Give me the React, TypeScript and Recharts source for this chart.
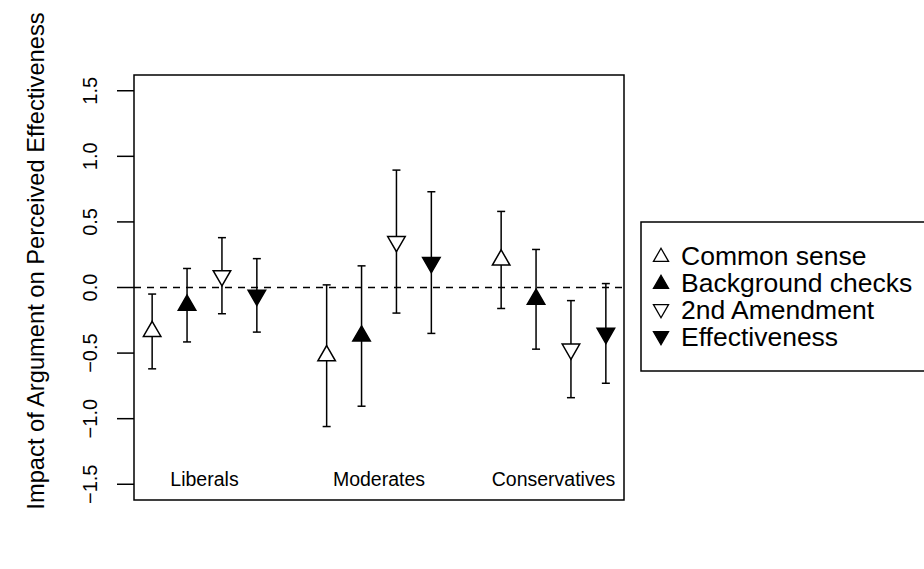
import { ComposedChart, XAxis, YAxis, Scatter, ErrorBar, ReferenceLine, ReferenceArea, Customized } from 'recharts';

const groups = ['Liberals', 'Moderates', 'Conservatives'];
const groupCenters = [2.5, 7.5, 12.5];
const groupLabelY = -1.5;
const yTicks = [-1.5, -1.0, -0.5, 0.0, 0.5, 1.0, 1.5];

// point estimate, lower and upper bound per group (Liberals, Moderates, Conservatives)
const commonSenseX = [1, 6, 11];
const commonSense = [-0.335, -0.52, 0.21];
const commonSenseLo = [-0.62, -1.06, -0.16];
const commonSenseHi = [-0.05, 0.02, 0.58];

const backgroundX = [2, 7, 12];
const background = [-0.135, -0.37, -0.09];
const backgroundLo = [-0.415, -0.905, -0.47];
const backgroundHi = [0.145, 0.165, 0.29];

const amendmentX = [3, 8, 13];
const amendment = [0.09, 0.35, -0.47];
const amendmentLo = [-0.2, -0.195, -0.84];
const amendmentHi = [0.38, 0.895, -0.1];

const effectX = [4, 9, 14];
const effect = [-0.06, 0.19, -0.35];
const effectLo = [-0.34, -0.35, -0.73];
const effectHi = [0.22, 0.73, 0.03];

const FONT = '"Liberation Sans", Arial, Helvetica, sans-serif';
const AXIS_X = 134;

const build = (xs: number[], ys: number[], lo: number[], hi: number[]) =>
  xs.map((x, i) => ({ x, y: ys[i], err: [ys[i] - lo[i], hi[i] - ys[i]] }));

const groupLabelData = groups.map((name, i) => ({ x: groupCenters[i], y: groupLabelY, name }));

// R-style triangle: apex at 1.555r from center, base 0.778r
const R = 6.5;
const tri = (cx: number, cy: number, up: boolean, r = R) => {
  const top = 1.555 * r, base = 0.778 * r, hw = 1.347 * r;
  if (up) return `${cx},${cy - top} ${cx + hw},${cy + base} ${cx - hw},${cy + base}`;
  return `${cx},${cy + top} ${cx + hw},${cy - base} ${cx - hw},${cy - base}`;
};

const makeShape = (up: boolean, filled: boolean) => (props: any) => (
  <polygon
    points={tri(props.cx, props.cy, up)}
    fill={filled ? '#000' : '#fff'}
    stroke="#000"
    strokeWidth={1.5}
  />
);

const GroupLabel = (props: any) => (
  <text x={props.cx} y={props.cy + 2} textAnchor="middle" fontSize={19.5} fontFamily={FONT} fill="#000">
    {props.payload.name}
  </text>
);

const YTick = (props: any) => {
  const { y, payload } = props;
  const label = payload.value < 0 ? `\u2212${Math.abs(payload.value).toFixed(1)}` : payload.value.toFixed(1);
  return (
    <g>
      <line x1={AXIS_X - 17} x2={AXIS_X} y1={y} y2={y} stroke="#000" strokeWidth={1.5} />
      <text x={97} y={y} transform={`rotate(-90, 97, ${y})`} textAnchor="middle" fontSize={20} fontFamily={FONT} fill="#000">
        {label}
      </text>
    </g>
  );
};

const legendItems = [
  { label: 'Common sense', up: true, filled: false },
  { label: 'Background checks', up: true, filled: true },
  { label: '2nd Amendment', up: false, filled: false },
  { label: 'Effectiveness', up: false, filled: true },
];

const LegendBox = () => (
  <g>
    <rect x={641} y={222} width={300} height={149} fill="#fff" stroke="#000" strokeWidth={1.5} />
    {legendItems.map((it, i) => {
      const cy = 256 + i * 27;
      return (
        <g key={it.label}>
          <polygon points={tri(661, cy + (it.up ? 1 : -1), it.up, 5.6)} fill={it.filled ? '#000' : '#fff'} stroke="#000" strokeWidth={1.3} />
          <text x={681} y={cy} dominantBaseline="central" fontSize={26.5} fontFamily={FONT} fill="#000">
            {it.label}
          </text>
        </g>
      );
    })}
  </g>
);

const YLabel = () => (
  <text x={44} y={261} transform="rotate(-90, 44, 261)" textAnchor="middle" fontSize={23.7} fontFamily={FONT} fill="#000">
    Impact of Argument on Perceived Effectiveness
  </text>
);

const series = [
  { name: 'Common sense', data: build(commonSenseX, commonSense, commonSenseLo, commonSenseHi), up: true, filled: false },
  { name: 'Background checks', data: build(backgroundX, background, backgroundLo, backgroundHi), up: true, filled: true },
  { name: '2nd Amendment', data: build(amendmentX, amendment, amendmentLo, amendmentHi), up: false, filled: false },
  { name: 'Effectiveness', data: build(effectX, effect, effectLo, effectHi), up: false, filled: true },
];

export default function App() {
  return (
    <div style={{ position: 'absolute', left: 0, top: 0, width: 924, height: 569, background: '#fff' }}>
      <ComposedChart width={924} height={569} margin={{ top: 75, right: 300, bottom: 69, left: 0 }}>
        <XAxis type="number" dataKey="x" domain={[0.48, 14.52]} hide />
        <YAxis
          type="number"
          dataKey="y"
          domain={[-1.62, 1.62]}
          ticks={yTicks}
          width={AXIS_X}
          axisLine={false}
          tickLine={false}
          tick={<YTick />}
          interval={0}
        />
        <ReferenceLine y={0} stroke="#000" strokeWidth={1.5} strokeDasharray="7 6" />
        <ReferenceArea x1={0.48} x2={14.52} y1={-1.62} y2={1.62} fill="none" stroke="#000" strokeWidth={1.5} fillOpacity={0} />
        {series.map((s) => (
          <Scatter key={s.name} name={s.name} data={s.data} dataKey="y" shape={makeShape(s.up, s.filled)} isAnimationActive={false}>
            <ErrorBar dataKey="err" direction="y" width={4} stroke="#000" strokeWidth={1.5} />
          </Scatter>
        ))}
        <Scatter data={groupLabelData} dataKey="y" shape={<GroupLabel />} isAnimationActive={false} />
        <Customized component={<LegendBox />} />
        <Customized component={<YLabel />} />
      </ComposedChart>
    </div>
  );
}
